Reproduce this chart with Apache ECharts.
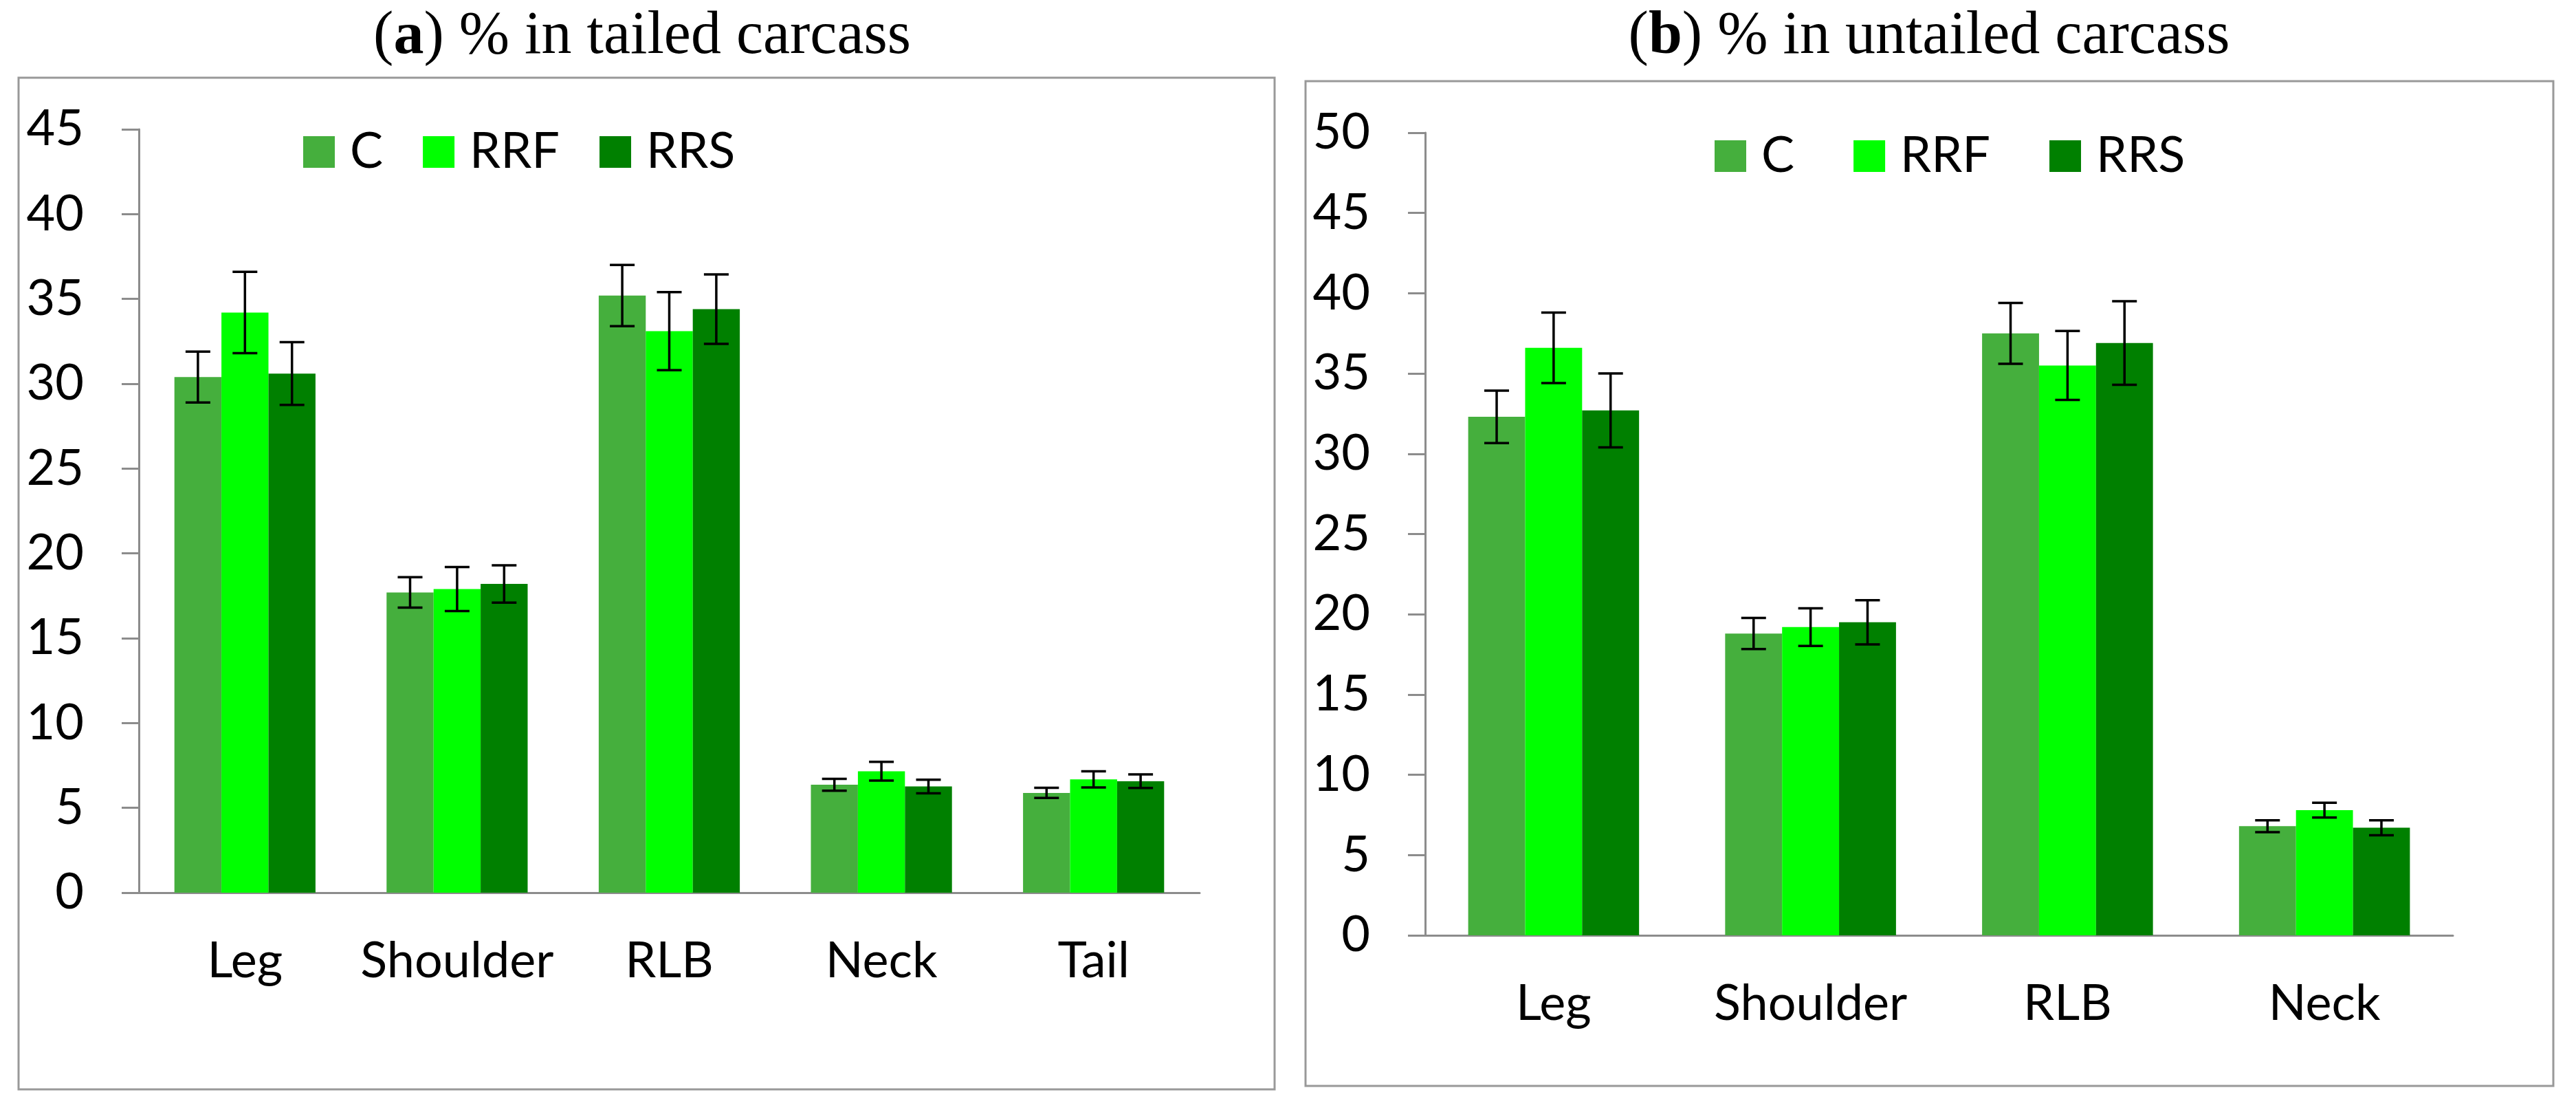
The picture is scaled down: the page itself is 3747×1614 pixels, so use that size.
<!DOCTYPE html>
<html>
<head>
<meta charset="utf-8">
<title>Carcass cuts</title>
<script src="https://cdn.jsdelivr.net/npm/echarts@6/dist/echarts.min.js"></script>
<style>
  html, body { margin: 0; padding: 0; background: #fff; }
  #chart { width: 3747px; height: 1614px; }
</style>
</head>
<body>
<div id="chart"></div>
<script>
'use strict'

// categories
const tailedCuts = ['Leg', 'Shoulder', 'RLB', 'Neck', 'Tail']
const untailedCuts = ['Leg', 'Shoulder', 'RLB', 'Neck']
const groups = ['C', 'RRF', 'RRS']

// (a) % in tailed carcass, means and error bars
const tailedC = [30.4, 17.7, 35.2, 6.36, 5.88]
const tailedCErr = [1.5, 0.9, 1.8, 0.35, 0.3]
const tailedRRF = [34.2, 17.9, 33.1, 7.16, 6.68]
const tailedRRFErr = [2.4, 1.3, 2.3, 0.55, 0.48]
const tailedRRS = [30.6, 18.2, 34.4, 6.26, 6.57]
const tailedRRSErr = [1.85, 1.1, 2.05, 0.4, 0.4]

// (b) % in untailed carcass
const untailedC = [32.3, 18.8, 37.5, 6.8]
const untailedCErr = [1.63, 0.97, 1.9, 0.37]
const untailedRRF = [36.6, 19.2, 35.5, 7.8]
const untailedRRFErr = [2.2, 1.17, 2.15, 0.46]
const untailedRRS = [32.7, 19.5, 36.9, 6.7]
const untailedRRSErr = [2.3, 1.38, 2.6, 0.47]

const colors = ['#45AF3D', '#00FF00', '#008000']
const gapRatio = 0.335
const axisGray = '#8c8c8c'
const sans = 'Lato, sans-serif'
const serif = '"Liberation Serif", "Times New Roman", serif'

// error bar drawn over the k-th bar of a group
function errorBars(k) {
    return function (params, api) {
        const x = api.value(0)
        const v = api.value(1)
        const e = api.value(2)
        const band = api.size([1, 0])[0]
        const bw = band * (1 - gapRatio) / 3
        const cx = api.coord([x, v])[0] + (k - 1) * bw
        const top = api.coord([x, v + e])[1]
        const bottom = api.coord([x, v - e])[1]
        const cap = 18
        const style = { stroke: '#000', lineWidth: 3.5 }
        return {
            type: 'group',
            children: [
                { type: 'line', shape: { x1: cx, y1: top, x2: cx, y2: bottom }, style: style },
                { type: 'line', shape: { x1: cx - cap, y1: top, x2: cx + cap, y2: top }, style: style },
                { type: 'line', shape: { x1: cx - cap, y1: bottom, x2: cx + cap, y2: bottom }, style: style }
            ]
        }
    }
}

function zip(means, errs) {
    return means.map((m, i) => [i, m, errs[i]])
}

function xAxis(gridIndex, cats) {
    return {
        type: 'category',
        gridIndex: gridIndex,
        data: cats,
        axisLine: { lineStyle: { color: axisGray, width: 3 } },
        axisTick: { length: 25, lineStyle: { color: axisGray, width: 3 } },
        axisLabel: { color: '#000', fontFamily: sans, fontSize: 72, margin: 64, interval: 0, hideOverlap: false }
    }
}

function yAxis(gridIndex, max) {
    return {
        type: 'value',
        gridIndex: gridIndex,
        min: 0,
        max: max,
        interval: 5,
        splitLine: { show: false },
        axisLine: { show: true, lineStyle: { color: axisGray, width: 3 } },
        axisTick: { show: true, length: 25, lineStyle: { color: axisGray, width: 3 } },
        axisLabel: { color: '#000', fontFamily: sans, fontSize: 72, margin: 80 }
    }
}

function barSeries(name, axisIdx, data, k) {
    return {
        name: name,
        type: 'bar',
        xAxisIndex: axisIdx,
        yAxisIndex: axisIdx,
        data: data,
        barGap: 0,
        barCategoryGap: (gapRatio * 100) + '%',
        itemStyle: { color: colors[k] },
        z: 2
    }
}

function errSeries(axisIdx, data, k) {
    return {
        type: 'custom',
        xAxisIndex: axisIdx,
        yAxisIndex: axisIdx,
        data: data,
        renderItem: errorBars(k),
        z: 5,
        silent: true
    }
}

function legend(left, top, gap) {
    return {
        data: groups,
        left: left,
        top: top,
        orient: 'horizontal',
        icon: 'rect',
        itemWidth: 46,
        itemHeight: 46,
        itemGap: gap,
        padding: 0,
        textStyle: { color: '#000', fontFamily: sans, fontSize: 72, padding: [0, 0, 0, 17] }
    }
}

const titleStyle = {
    color: '#000',
    fontFamily: serif,
    fontSize: 88,
    fontWeight: 'normal',
    rich: {
        b: { fontFamily: serif, fontSize: 88, fontWeight: 'bold', color: '#000' }
    }
}

const option = {
    animation: false,
    backgroundColor: '#fff',
    title: [
        { text: '({b|a}) % in tailed carcass', left: 934, top: 10, textAlign: 'center', padding: 0, textStyle: titleStyle },
        { text: '({b|b}) % in untailed carcass', left: 2806, top: 10, textAlign: 'center', padding: 0, textStyle: titleStyle }
    ],
    legend: [
        Object.assign(legend(441, 185, 58), { id: 'la' }),
        Object.assign(legend(2494, 191, 86), { id: 'lb' })
    ],
    grid: [
        { left: 202, top: 188, right: 2002, bottom: 316 },
        { left: 2073, top: 193, right: 179, bottom: 254 }
    ],
    xAxis: [xAxis(0, tailedCuts), xAxis(1, untailedCuts)],
    yAxis: [yAxis(0, 45), yAxis(1, 50)],
    graphic: [
        { type: 'rect', shape: { x: 27, y: 113, width: 1827, height: 1471 }, style: { fill: 'none', stroke: '#999', lineWidth: 3 }, z: -1 },
        { type: 'rect', shape: { x: 1899, y: 118, width: 1815, height: 1461 }, style: { fill: 'none', stroke: '#999', lineWidth: 3 }, z: -1 }
    ],
    series: [
        barSeries('C', 0, tailedC, 0),
        barSeries('RRF', 0, tailedRRF, 1),
        barSeries('RRS', 0, tailedRRS, 2),
        errSeries(0, zip(tailedC, tailedCErr), 0),
        errSeries(0, zip(tailedRRF, tailedRRFErr), 1),
        errSeries(0, zip(tailedRRS, tailedRRSErr), 2),
        barSeries('C', 1, untailedC, 0),
        barSeries('RRF', 1, untailedRRF, 1),
        barSeries('RRS', 1, untailedRRS, 2),
        errSeries(1, zip(untailedC, untailedCErr), 0),
        errSeries(1, zip(untailedRRF, untailedRRFErr), 1),
        errSeries(1, zip(untailedRRS, untailedRRSErr), 2)
    ]
}

const chart = echarts.init(document.getElementById('chart'))
chart.setOption(option)
</script>
</body>
</html>
